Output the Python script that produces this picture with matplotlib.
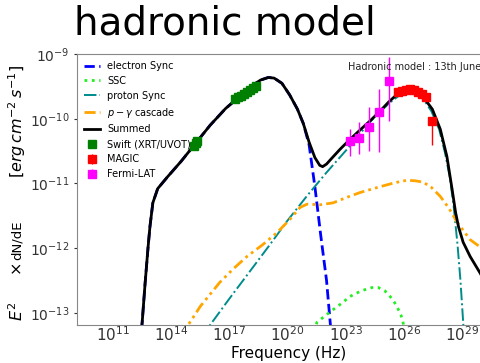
import numpy as np
import matplotlib.pyplot as plt
from matplotlib.ticker import FixedLocator, LogFormatterMathtext

# model curves, log10(nu / Hz) and log10(E^2 dN/dE / erg cm^-2 s^-1)
esync_lognu = [12.40, 12.50, 12.65, 12.80, 12.90, 13.05, 13.30, 13.80, 14.50, 15.25,
               16.00, 16.80, 17.50, 18.10, 18.60, 19.00, 19.30, 19.70, 20.10, 20.50,
               20.80, 21.10, 21.40, 21.70, 22.00, 22.20, 22.35]
esync_logf = [-13.5, -13.15, -12.55, -12.00, -11.67, -11.30, -11.08, -10.90, -10.66, -10.38,
              -10.10, -9.84, -9.66, -9.50, -9.40, -9.36, -9.37, -9.45, -9.63, -9.85,
              -10.07, -10.40, -11.05, -11.80, -12.50, -13.19, -13.7]

ssc_lognu = [21.3, 21.5, 22.0, 22.35, 22.8, 23.2, 23.8, 24.35, 24.66, 25.0,
             25.28, 25.5, 25.7, 25.85, 25.95, 26.05]
ssc_logf = [-13.4, -13.15, -13.03, -12.95, -12.85, -12.75, -12.66, -12.61, -12.61, -12.66,
            -12.75, -12.84, -12.95, -13.05, -13.16, -13.4]

psync_lognu = [15.5, 16.0, 17.0, 18.0, 19.0, 20.0, 21.0, 22.0, 23.0, 23.7,
               24.3, 24.8, 25.3, 25.7, 26.1, 26.4, 26.7, 27.0, 27.4, 27.8,
               28.1, 28.35, 28.55, 28.75, 28.9, 29.05, 29.15]
psync_logf = [-13.4, -13.19, -12.78, -12.38, -11.98, -11.57, -11.19, -10.83, -10.49, -10.24,
              -10.03, -9.88, -9.74, -9.65, -9.60, -9.59, -9.62, -9.70, -9.88, -10.16,
              -10.52, -10.90, -11.35, -11.95, -12.5, -13.19, -13.6]

casc_lognu = [14.7, 14.87, 15.5, 16.5, 17.2, 17.9, 18.7, 19.45, 20.1, 20.64,
              21.0, 21.67, 22.34, 23.0, 23.73, 24.76, 25.5, 26.15, 26.6, 26.98,
              27.4, 27.86, 28.3, 28.73, 29.4, 29.9, 30.5]
casc_logf = [-13.4, -13.19, -12.90, -12.53, -12.32, -12.13, -11.95, -11.76, -11.56, -11.37,
             -11.32, -11.33, -11.30, -11.22, -11.14, -11.05, -10.99, -10.95, -10.96, -10.98,
             -11.06, -11.20, -11.38, -11.60, -11.87, -11.98, -12.1]

sum_lognu = [12.40, 12.50, 12.65, 12.80, 12.90, 13.05, 13.30, 13.80, 14.50, 15.25,
             16.00, 16.80, 17.50, 18.10, 18.60, 19.00, 19.30, 19.70, 20.10, 20.50,
             20.80, 21.10, 21.40, 21.65, 21.80, 22.00, 22.30, 22.70, 23.20, 23.70,
             24.25, 24.76, 25.20, 25.64, 26.00, 26.30, 26.65, 27.00, 27.45, 27.86,
             28.20, 28.47, 28.65, 28.80, 29.04, 29.40, 29.90, 30.5]
sum_logf = [-13.5, -13.15, -12.55, -12.00, -11.67, -11.30, -11.08, -10.90, -10.66, -10.38,
            -10.10, -9.84, -9.66, -9.50, -9.40, -9.36, -9.37, -9.45, -9.63, -9.85,
            -10.07, -10.36, -10.60, -10.72, -10.74, -10.70, -10.60, -10.47, -10.32, -10.18,
            -10.03, -9.88, -9.74, -9.62, -9.56, -9.54, -9.58, -9.67, -9.85, -10.16,
            -10.58, -11.09, -11.45, -11.67, -11.91, -12.13, -12.38, -12.7]

# observations
swift_lognu = [15.15, 15.25, 15.32, 17.30, 17.45, 17.60, 17.75, 17.90, 18.05, 18.20, 18.35]
swift_logf = [-10.42, -10.38, -10.34, -9.70, -9.67, -9.64, -9.61, -9.58, -9.55, -9.52, -9.49]

magic_lognu = [25.70, 25.90, 26.10, 26.30, 26.50, 26.70, 26.90, 27.15, 27.45]
magic_logf = [-9.59, -9.57, -9.55, -9.54, -9.55, -9.59, -9.62, -9.67, -10.04]
magic_lo = [-9.59, -9.57, -9.55, -9.54, -9.55, -9.59, -9.62, -9.67, -10.40]
magic_hi = [-9.59, -9.57, -9.55, -9.54, -9.55, -9.59, -9.62, -9.67, -9.98]

fermi_lognu = [23.20, 23.67, 24.20, 24.70, 25.23]
fermi_logf = [-10.34, -10.29, -10.12, -9.90, -9.42]
fermi_lo = [-10.58, -10.55, -10.50, -10.52, -10.04]
fermi_hi = [-10.16, -10.05, -9.82, -9.54, -9.05]

xticks = [1e11, 1e14, 1e17, 1e20, 1e23, 1e26, 1e29]
yticks = [1e-13, 1e-12, 1e-11, 1e-10, 1e-9]


def p(a):
    return 10.0 ** np.array(a)


fig = plt.figure(figsize=(4.81, 3.63), dpi=100)
fig.text(0.468, 0.904, 'hadronic model', fontsize=28, family='DejaVu Sans',
         ha='center', va='baseline', color='black')
ax = fig.add_axes([0.160, 0.1047, 0.882, 0.746])

ax.plot(p(esync_lognu), p(esync_logf), '--', color='#0000ff', lw=2, label='electron Sync')
ax.plot(p(ssc_lognu), p(ssc_logf), ':', color='#22ee22', lw=2, label='SSC')
ax.plot(p(psync_lognu), p(psync_logf), '-.', color='#008b8b', lw=1.4, label='proton Sync')
ax.plot(p(casc_lognu), p(casc_logf), color='#ffa500', lw=2,
        dashes=(4, 1.5, 1, 1.5, 1, 1.5), label=r'$p-\gamma$ cascade')
ax.plot(p(sum_lognu), p(sum_logf), '-', color='black', lw=2, label='Summed')

ax.plot(p(swift_lognu), p(swift_logf), 's', color='green', ms=6, ls='none',
        label='Swift (XRT/UVOT)')
mf = p(magic_logf)
ax.errorbar(p(magic_lognu), mf, yerr=[mf - p(magic_lo), p(magic_hi) - mf],
            fmt='s', color='red', ms=6, elinewidth=1, label='MAGIC')
ff = p(fermi_logf)
ax.errorbar(p(fermi_lognu), ff, yerr=[ff - p(fermi_lo), p(fermi_hi) - ff],
            fmt='s', color='magenta', ms=6, elinewidth=1, label='Fermi-LAT')

ax.set_xscale('log')
ax.set_yscale('log')
ax.set_xlim(10.0 ** 9.14, 1e31)
ax.set_ylim(10.0 ** -13.19, 1e-9)
ax.xaxis.set_major_locator(FixedLocator(xticks))
ax.xaxis.set_minor_locator(FixedLocator([]))
ax.yaxis.set_major_locator(FixedLocator(yticks))
ax.yaxis.set_minor_locator(FixedLocator([]))
ax.xaxis.set_major_formatter(LogFormatterMathtext())
ax.yaxis.set_major_formatter(LogFormatterMathtext())
ax.tick_params(axis='x', labelsize=11, colors='#333333', length=0, pad=0)
ax.tick_params(axis='y', labelsize=10, colors='#333333', length=2)
for s in ax.spines.values():
    s.set_color('#888888')

ax.set_xlabel('Frequency (Hz)', fontsize=11, labelpad=1.5)

# y label built from pieces so the gaps follow the original layout
ylab = [(r'$E^2$', 311, 11.5), (r'$\times$', 269, 11.5), ('dN/dE', 240, 9.5),
        (r'$[erg\, cm^{-2}\, s^{-1}]$', 121, 11.5)]
for txt, ypx, fs in ylab:
    fig.text(17 / 481, 1 - ypx / 363, txt, rotation=90, fontsize=fs,
             ha='center', va='center')

fig.text(348 / 481, 1 - 67 / 363, 'Hadronic model : 13th June', fontsize=7,
         va='center', color='#222222')

ax.legend(loc='upper left', frameon=False, fontsize=7, labelspacing=0.5,
          handlelength=1.7, handletextpad=0.7, borderaxespad=0.3, numpoints=1)

fig.savefig('out.png', dpi=100)
